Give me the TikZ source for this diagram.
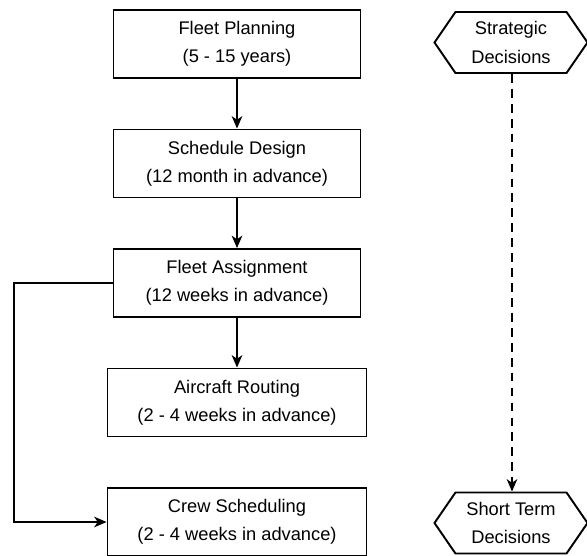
\documentclass[tikz,border=0pt]{standalone}
\usepackage{fontspec}
\setmainfont{Liberation Sans}
\usetikzlibrary{shapes.symbols, arrows.meta}

\begin{document}
\begin{tikzpicture}[
    every node/.style={font=\fontsize{10.4}{16}\selectfont},
    block/.style={rectangle, draw, line width=1.1pt, fill=white, align=center, minimum width=4.94cm, minimum height=1.36cm},
    wideblock/.style={block, minimum width=5.18cm},
    level/.style={signal, signal to=west and east, signal pointer angle=111, draw, line width=1.1pt, align=center, minimum width=3.06cm, minimum height=1.22cm, inner xsep=2pt},
    arrow/.style={->, >={Stealth[length=7pt, width=6pt, inset=2pt]}, line width=1.2pt},
    timeline/.style={arrow, dash pattern=on 5pt off 3.5pt}
]

% -------------------------
% Canvas
% -------------------------
    \useasboundingbox (0, 0) rectangle (11.74, -11.12);

% -------------------------
% Planning stages (X=4.74)
% -------------------------
    \node[block] (fleet) at (4.74, -0.88) {Fleet Planning\\(5 - 15 years)};
    \node[block] (schedule) at (4.74, -3.27) {Schedule Design\\(12 month in advance)};
    \node[block] (assign) at (4.74, -5.66) {Fleet Assignment\\(12 weeks in advance)};
    \node[wideblock] (routing) at (4.74, -8.05) {Aircraft Routing\\(2 - 4 weeks in advance)};
    \node[wideblock] (crew) at (4.74, -10.44) {Crew Scheduling\\(2 - 4 weeks in advance)};

% -------------------------
% Decision levels (X=10.24)
% -------------------------
    \node[level] (strategic) at (10.22, -0.85) {Strategic\\Decisions};
    \node[level] (shortterm) at (10.22, -10.46) {Short Term\\Decisions};

    \coordinate (bend) at (0.28, -5.66);

% -------------------------
% Arrows
% -------------------------
    \draw[arrow] (fleet) -- (schedule);
    \draw[arrow] (schedule) -- (assign);
    \draw[arrow] (assign) -- (routing);

    % Fleet assignment also feeds crew scheduling
    \draw[arrow] (assign.west) -- (bend) |- (crew.west);

    % Time horizon
    \draw[timeline] ([xshift=0.02cm]strategic.south) -- ([xshift=0.02cm]shortterm.north);
\end{tikzpicture}
\end{document}
